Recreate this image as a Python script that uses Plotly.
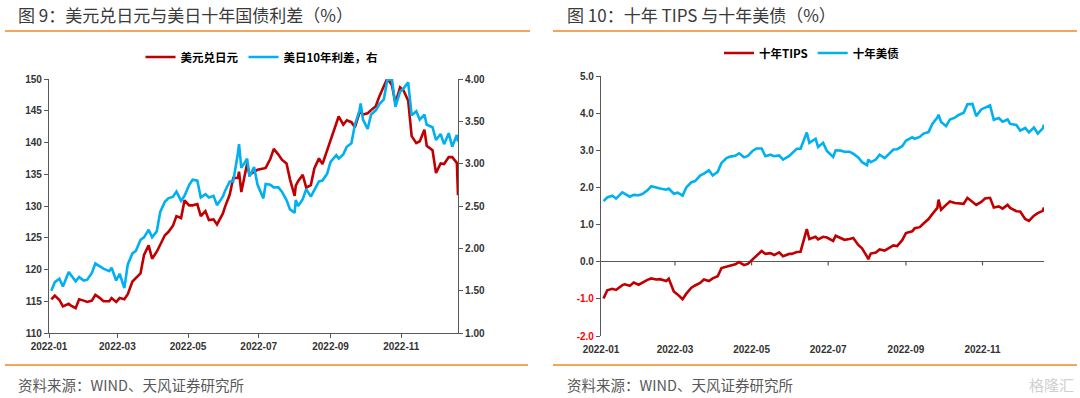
import plotly.graph_objects as go

# ---------------- data ----------------
dates = [
    "2022-01-03", "2022-01-06", "2022-01-10", "2022-01-13", "2022-01-18", "2022-01-20", "2022-01-24", "2022-01-27", "2022-01-31",
    "2022-02-03", "2022-02-07", "2022-02-10", "2022-02-14", "2022-02-17", "2022-02-22", "2022-02-24", "2022-02-28",
    "2022-03-03", "2022-03-07", "2022-03-10", "2022-03-14", "2022-03-17", "2022-03-21", "2022-03-24", "2022-03-28", "2022-03-31",
    "2022-04-04", "2022-04-07", "2022-04-11", "2022-04-14", "2022-04-18", "2022-04-21", "2022-04-25", "2022-04-28",
    "2022-05-02", "2022-05-05", "2022-05-09", "2022-05-12", "2022-05-16", "2022-05-19", "2022-05-23", "2022-05-26", "2022-05-31",
    "2022-06-02", "2022-06-06", "2022-06-09", "2022-06-13", "2022-06-14", "2022-06-16", "2022-06-21", "2022-06-23", "2022-06-27", "2022-06-30",
    "2022-07-05", "2022-07-07", "2022-07-11", "2022-07-14", "2022-07-18", "2022-07-21", "2022-07-25", "2022-07-28",
    "2022-08-01", "2022-08-02", "2022-08-04", "2022-08-08", "2022-08-11", "2022-08-15", "2022-08-18", "2022-08-22", "2022-08-25", "2022-08-29",
    "2022-09-01", "2022-09-06", "2022-09-08", "2022-09-12", "2022-09-15", "2022-09-19", "2022-09-22", "2022-09-26", "2022-09-27", "2022-09-29",
    "2022-10-03", "2022-10-06", "2022-10-10", "2022-10-13", "2022-10-17", "2022-10-20", "2022-10-24", "2022-10-27", "2022-10-31",
    "2022-11-03", "2022-11-07", "2022-11-10", "2022-11-14", "2022-11-17", "2022-11-21", "2022-11-23", "2022-11-28",
    "2022-12-01", "2022-12-05", "2022-12-08", "2022-12-12", "2022-12-15", "2022-12-19", "2022-12-20",
]

usdjpy = [
    115.3, 115.9, 115.2, 114.2, 114.6, 114.3, 113.9, 115.3, 115.1,
    114.9, 115.1, 116.0, 115.5, 115.0, 115.0, 115.5, 114.9,
    115.5, 115.3, 116.1, 118.1, 118.6, 119.4, 122.3, 123.8, 121.7,
    122.8, 123.9, 125.4, 125.9, 126.9, 128.4, 128.1, 130.9,
    130.1, 130.1, 130.3, 128.4, 129.2, 127.8, 127.9, 127.1, 128.8,
    129.9, 131.8, 134.4, 134.4, 135.4, 132.2, 136.7, 134.9, 135.4, 135.7,
    135.9, 136.0, 137.4, 139.0, 138.1, 137.3, 136.7, 134.2,
    131.6, 133.2, 133.9, 134.9, 132.9, 133.3, 135.9, 137.5, 136.6, 138.7,
    140.2, 142.8, 144.1, 142.8, 143.5, 143.2, 142.4, 144.7, 144.8, 144.4,
    144.6, 145.1, 145.7, 147.2, 148.9, 150.1, 149.0, 146.2, 148.7,
    148.2, 146.6, 141.0, 139.9, 140.2, 142.0, 139.5, 138.8,
    135.2, 136.7, 136.6, 137.7, 137.7, 136.8, 131.7,
]

us_jp_spread = [
    1.50, 1.60, 1.64, 1.55, 1.72, 1.68, 1.61, 1.66, 1.62,
    1.63, 1.71, 1.82, 1.78, 1.76, 1.73, 1.77, 1.62,
    1.70, 1.53, 1.81, 1.94, 1.97, 2.10, 2.13, 2.22, 2.13,
    2.20, 2.43, 2.55, 2.59, 2.61, 2.67, 2.56, 2.62,
    2.75, 2.81, 2.80, 2.60, 2.64, 2.60, 2.62, 2.51, 2.61,
    2.68, 2.79, 2.79, 3.12, 3.23, 2.95, 3.06, 2.85, 2.96, 2.75,
    2.59, 2.76, 2.75, 2.72, 2.72, 2.67, 2.57, 2.46,
    2.42, 2.57, 2.50, 2.58, 2.70, 2.61, 2.68, 2.79, 2.80, 2.88,
    3.02, 3.10, 3.06, 3.11, 3.20, 3.24, 3.46, 3.63, 3.71, 3.52,
    3.41, 3.58, 3.63, 3.70, 3.76, 3.99, 4.00, 3.67, 3.85,
    3.89, 3.96, 3.57, 3.62, 3.52, 3.58, 3.46, 3.43,
    3.28, 3.35, 3.23, 3.36, 3.20, 3.34, 3.26,
]

tips_10y = [
    -0.99, -0.77, -0.73, -0.76, -0.63, -0.61, -0.65, -0.56, -0.62,
    -0.56, -0.49, -0.45, -0.48, -0.47, -0.52, -0.46, -0.80,
    -0.88, -1.01, -0.86, -0.70, -0.64, -0.57, -0.48, -0.52, -0.45,
    -0.39, -0.17, -0.13, -0.11, -0.07, -0.01, -0.09, -0.06,
    0.07, 0.14, 0.29, 0.21, 0.23, 0.18, 0.25, 0.15, 0.21,
    0.21, 0.26, 0.27, 0.72, 0.88, 0.61, 0.67, 0.60, 0.67, 0.65,
    0.56, 0.70, 0.64, 0.59, 0.61, 0.64, 0.45, 0.36,
    0.14, 0.07, 0.22, 0.25, 0.33, 0.30, 0.36, 0.44, 0.42, 0.58,
    0.77, 0.82, 0.90, 0.93, 1.03, 1.15, 1.28, 1.45, 1.67, 1.40,
    1.53, 1.62, 1.58, 1.58, 1.56, 1.72, 1.62, 1.53, 1.61,
    1.70, 1.72, 1.46, 1.49, 1.43, 1.53, 1.45, 1.36,
    1.35, 1.15, 1.10, 1.24, 1.31, 1.37, 1.46,
]

ust_10y = [
    1.63, 1.73, 1.78, 1.70, 1.87, 1.83, 1.75, 1.80, 1.79,
    1.82, 1.92, 2.03, 1.99, 1.97, 1.94, 1.97, 1.83,
    1.86, 1.78, 2.00, 2.14, 2.17, 2.32, 2.37, 2.46, 2.32,
    2.42, 2.66, 2.79, 2.83, 2.85, 2.92, 2.81, 2.85,
    2.99, 3.05, 3.05, 2.84, 2.88, 2.84, 2.86, 2.75, 2.85,
    2.92, 3.04, 3.04, 3.37, 3.48, 3.20, 3.31, 3.09, 3.20, 2.98,
    2.82, 3.00, 2.99, 2.96, 2.96, 2.91, 2.81, 2.68,
    2.60, 2.75, 2.68, 2.75, 2.88, 2.79, 2.88, 3.02, 3.03, 3.11,
    3.26, 3.35, 3.31, 3.36, 3.45, 3.49, 3.71, 3.88, 3.96, 3.76,
    3.65, 3.83, 3.88, 3.95, 4.01, 4.24, 4.25, 3.92, 4.10,
    4.14, 4.21, 3.82, 3.87, 3.77, 3.83, 3.71, 3.68,
    3.53, 3.60, 3.48, 3.61, 3.45, 3.59, 3.69,
]

x_ticks = ["2022-01-01", "2022-03-01", "2022-05-01", "2022-07-01", "2022-09-01", "2022-11-01"]
x_tick_labels = ["2022-01", "2022-03", "2022-05", "2022-07", "2022-09", "2022-11"]
left_y_ticks = [110, 115, 120, 125, 130, 135, 140, 145, 150]
right_y_ticks = [1.0, 1.5, 2.0, 2.5, 3.0, 3.5, 4.0]
tips_y_ticks = [-2.0, -1.0, 0.0, 1.0, 2.0, 3.0, 4.0, 5.0]

# ---------------- layout helpers ----------------
W, H = 1080, 398
def px(x):
    return x / W
def py(y):
    return 1 - y / H

RED = "#C00000"
BLUE = "#00B0F0"
ORANGE = "#F4A55A"
AXIS = "#595959"
TICKFONT = dict(family="Liberation Sans, Arial, sans-serif", size=10, color="#333333", weight="bold")
CJK = "Noto Sans CJK SC"

fig = go.Figure()

fig.add_trace(go.Scatter(x=dates, y=usdjpy, name="美元兑日元", mode="lines",
                         line=dict(color=RED, width=2.6), xaxis="x", yaxis="y", legend="legend"))
fig.add_trace(go.Scatter(x=dates, y=us_jp_spread, name="美日10年利差，右", mode="lines",
                         line=dict(color=BLUE, width=2.6), xaxis="x", yaxis="y2", legend="legend"))
fig.add_trace(go.Scatter(x=dates, y=tips_10y, name="十年TIPS", mode="lines",
                         line=dict(color=RED, width=2.6), xaxis="x3", yaxis="y3", legend="legend2"))
fig.add_trace(go.Scatter(x=dates, y=ust_10y, name="十年美债", mode="lines",
                         line=dict(color=BLUE, width=2.6), xaxis="x3", yaxis="y3", legend="legend2"))

x_range = ["2022-01-01", "2022-12-20"]

tips_text = [f'<span style="color:#FF0000">{v:.1f}</span>' if v < 0 else f"{v:.1f}" for v in tips_y_ticks]

fig.update_layout(
    width=W, height=H,
    margin=dict(l=0, r=0, t=0, b=0, autoexpand=False),
    paper_bgcolor="white", plot_bgcolor="white",
    xaxis=dict(domain=[px(49), px(458)], anchor="y", type="date", range=x_range, automargin=False,
               tickvals=x_ticks, ticktext=x_tick_labels, showgrid=False, zeroline=False,
               showline=True, linecolor=AXIS, linewidth=1.2, ticks="outside", ticklen=4,
               tickcolor=AXIS, tickfont=TICKFONT),
    yaxis=dict(domain=[py(333), py(79)], anchor="x", range=[110, 150], tickvals=left_y_ticks, automargin=False,
               showgrid=False, zeroline=False, showline=True, linecolor=AXIS, linewidth=1.2,
               ticks="outside", ticklen=4, tickcolor=AXIS, tickfont=TICKFONT),
    yaxis2=dict(overlaying="y", side="right", anchor="x", range=[1.0, 4.0], tickvals=right_y_ticks,
                automargin=False,
                tickformat=".2f", showgrid=False, zeroline=False, showline=True, linecolor=AXIS,
                linewidth=1.2, ticks="outside", ticklen=4, tickcolor=AXIS, tickfont=TICKFONT),
    xaxis3=dict(domain=[px(601), px(1044)], anchor="y3", type="date", range=x_range, automargin=False,
                tickvals=x_ticks, ticktext=x_tick_labels, showgrid=False, zeroline=False,
                showline=False, ticks="", ticklabelstandoff=6, tickfont=TICKFONT),
    yaxis3=dict(domain=[py(336), py(76)], anchor="x3", range=[-2.0, 5.0], tickvals=tips_y_ticks,
                automargin=False,
                ticktext=tips_text, showgrid=False, zeroline=True, zerolinecolor=AXIS, zerolinewidth=1.2,
                showline=True, linecolor=AXIS, linewidth=1.2, ticks="outside", ticklen=4,
                tickcolor=AXIS, tickfont=TICKFONT),
    legend=dict(orientation="h", x=px(262), y=py(57), xanchor="center", yanchor="middle",
                font=dict(family=CJK, size=11.5, color="#000000", weight="bold"),
                bgcolor="rgba(0,0,0,0)", itemwidth=30, tracegroupgap=0),
    legend2=dict(orientation="h", x=px(812), y=py(53), xanchor="center", yanchor="middle",
                 font=dict(family=CJK, size=11.5, color="#000000", weight="bold"),
                 bgcolor="rgba(0,0,0,0)", itemwidth=30, tracegroupgap=0),
    showlegend=True,
)

# tick marks on the zero line of the right chart
shapes = []
for t in x_ticks[1:]:
    shapes.append(dict(type="line", xref="x3", yref="y3", x0=t, x1=t, y0=0, y1=-0.1,
                       line=dict(color=AXIS, width=1.2)))
# orange separators
for (x0, x1, y) in [(5, 530, 31), (553, 1077, 31), (5, 528, 365), (553, 1077, 365)]:
    shapes.append(dict(type="line", xref="paper", yref="paper", x0=px(x0), x1=px(x1), y0=py(y), y1=py(y),
                       line=dict(color=ORANGE, width=2)))
fig.update_layout(shapes=shapes)

annotations = [
    dict(text="图 9：美元兑日元与美日十年国债利差（%）", x=px(16), y=py(15), xanchor="left", yanchor="middle",
         font=dict(family=CJK, size=17, color="#3A3A3A")),
    dict(text="图 10：十年 TIPS 与十年美债（%）", x=px(565), y=py(15), xanchor="left", yanchor="middle",
         font=dict(family=CJK, size=17, color="#3A3A3A")),
    dict(text="资料来源：WIND、天风证券研究所", x=px(16), y=py(384), xanchor="left", yanchor="middle",
         font=dict(family=CJK, size=14.5, color="#595959")),
    dict(text="资料来源：WIND、天风证券研究所", x=px(565), y=py(384), xanchor="left", yanchor="middle",
         font=dict(family=CJK, size=14.5, color="#595959")),
    dict(text="格隆汇", x=px(1076), y=py(384), xanchor="right", yanchor="middle",
         font=dict(family=CJK, size=15, color="#D0D0D0")),
]
for a in annotations:
    a.update(xref="paper", yref="paper", showarrow=False)
fig.update_layout(annotations=annotations)

fig.write_html("out.html", config={"displayModeBar": False},
               post_script="document.body.style.margin='0';")
